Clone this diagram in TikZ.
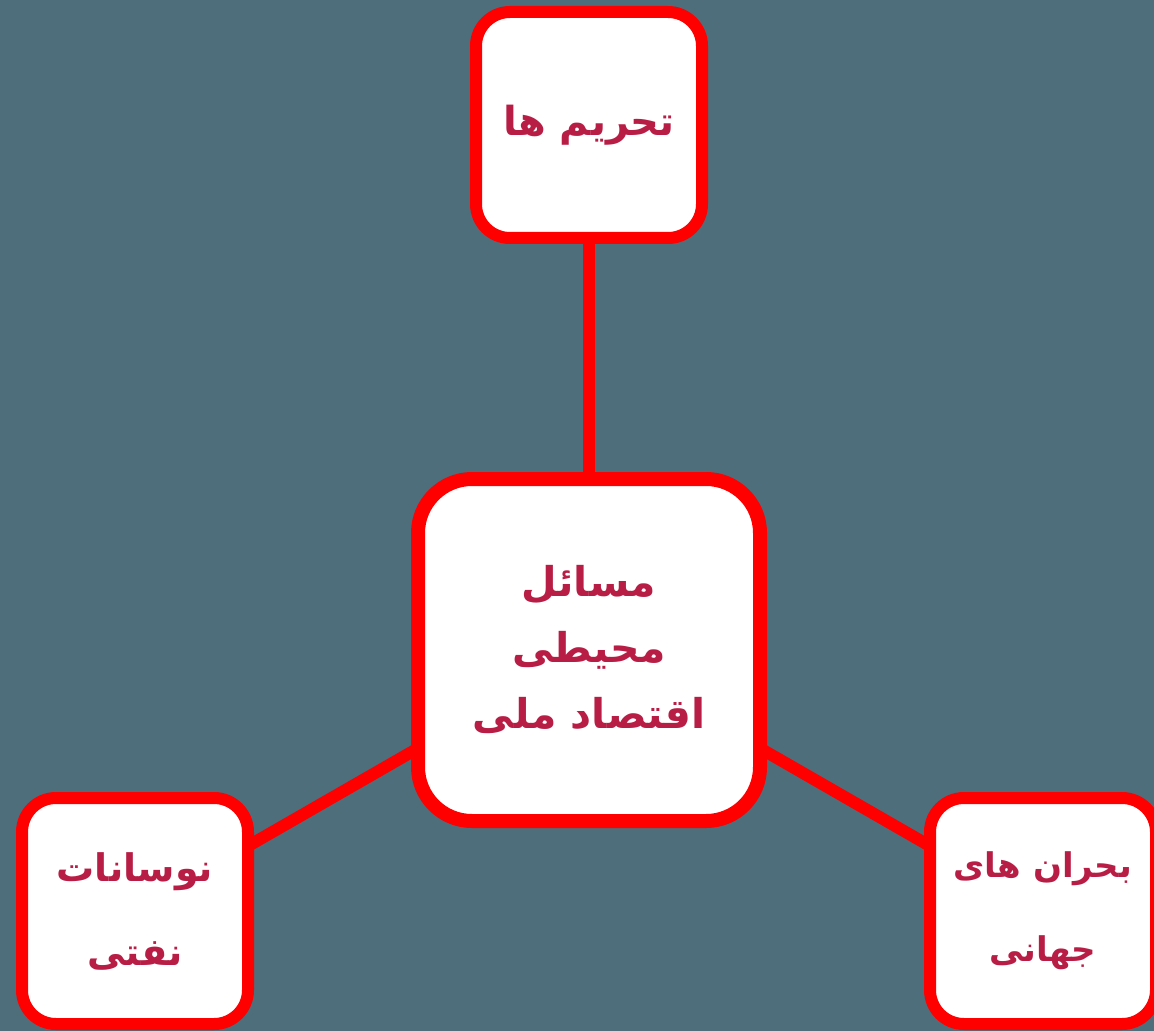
\documentclass[tikz,border=0pt]{standalone}
\usepackage{fontspec}
\usetikzlibrary{backgrounds}
\newfontfamily\arabicfont[Script=Arabic]{DejaVu Sans}
\TeXXeTstate=1
\definecolor{bgc}{HTML}{4D6E7A}
\definecolor{bred}{HTML}{FF0000}
\definecolor{txtc}{HTML}{B81E45}
\tikzset{
  box/.style={draw=bred, line width=6pt, fill=white, rounded corners=17pt,
    minimum width=113pt, minimum height=113pt, inner sep=0pt, text=txtc,
    align=center, font=\arabicfont\bfseries\fontsize{20}{42}\selectfont},
  bigbox/.style={box, line width=7pt, rounded corners=27pt,
    minimum width=171pt, minimum height=171pt,
    font=\arabicfont\bfseries\fontsize{20.5}{33}\selectfont},
  link/.style={draw=bred, line width=6pt}
}
\begin{document}
\begin{tikzpicture}[x=0.5pt,y=-0.5pt]
\useasboundingbox (0,0) rectangle (1154,1031);
\node[bigbox] (ctr) at (589,650) {\beginR مسائل\endR\\\beginR محیطی\endR\\\beginR اقتصاد ملی\endR};
\node[box] (top) at (589,125) {\beginR تحریم ها\endR};
\node[box, font=\arabicfont\bfseries\fontsize{19}{42}\selectfont] (lft) at (135,911) {\beginR نوسانات\endR\\\beginR نفتی\endR};
\node[box, font=\arabicfont\bfseries\fontsize{17}{42}\selectfont] (rgt) at (1043,911) {\beginR بحران های\endR\\\beginR جهانی\endR};
\begin{scope}[on background layer]
\fill[bgc] (0,0) rectangle (1154,1031);
\draw[link] (ctr.center) -- (top.center);
\draw[link] (ctr.center) -- (lft.center);
\draw[link] (ctr.center) -- (rgt.center);
\end{scope}
\end{tikzpicture}
\end{document}
